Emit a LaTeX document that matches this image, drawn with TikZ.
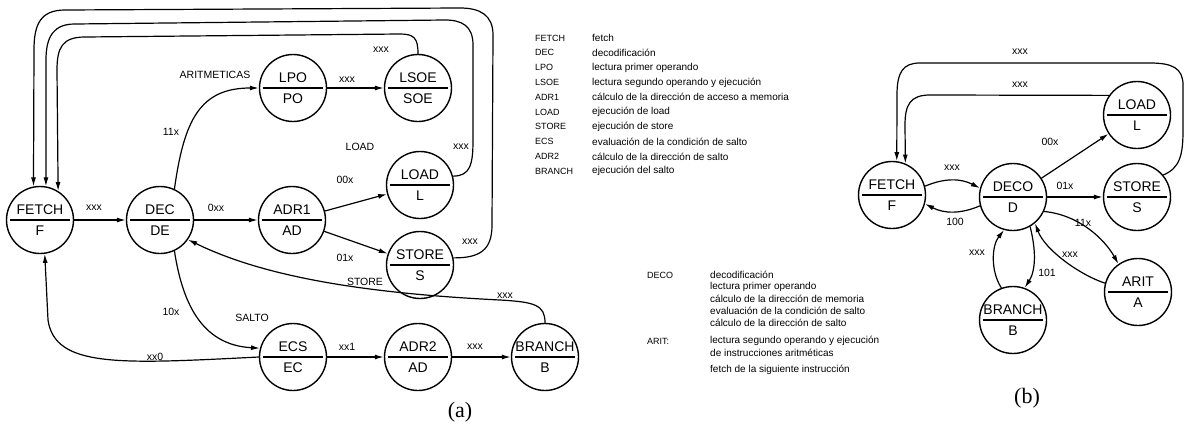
\documentclass[tikz,border=0pt]{standalone}
\usepackage{fontspec}
\setmainfont{Liberation Sans}
\newfontfamily\capfont{Liberation Serif}
\usetikzlibrary{arrows.meta}
\newcommand\mkstate[4]{%
  \node[st] (#1) at (#2) {};
  \draw[line width=1.4pt] ([xshift=4pt]#1.west) -- ([xshift=-4pt]#1.east);
  \node[stt,anchor=south,yshift=5pt] (#1t) at (#1.center) {#3};
  \node[stt,anchor=north,yshift=-6pt] (#1b) at (#1.center) {#4};
}
\begin{document}
\begin{tikzpicture}[x=1pt,y=-1pt,
  st/.style={circle,draw,line width=1.4pt,minimum size=67pt,inner sep=0pt},
  stt/.style={font=\fontsize{14}{14}\selectfont,inner sep=0pt},
  arr/.style={line width=1.2pt,-{Latex[length=9pt,width=5pt]}},
  lab/.style={font=\fontsize{10.5}{10.5}\selectfont,inner sep=0pt},
  leg/.style={font=\fontsize{9}{9}\selectfont,inner sep=0pt,anchor=west},
  legd/.style={font=\fontsize{10}{10}\selectfont,inner sep=0pt,anchor=west}]
\useasboundingbox (0,0) rectangle (1185,439);
% ---------------- (a) ----------------
\mkstate{FETCH}{40,220}{FETCH}{F}
\mkstate{DEC}{160,220}{DEC}{DE}
\mkstate{ADR1}{292,220}{ADR1}{AD}
\mkstate{LPO}{293,88}{LPO}{PO}
\mkstate{LSOE}{418,88}{LSOE}{SOE}
\mkstate{LOAD}{420,185}{LOAD}{L}
\mkstate{STORE}{420,265}{STORE}{S}
\mkstate{ECS}{293,357}{ECS}{EC}
\mkstate{ADR2}{418,357}{ADR2}{AD}
\mkstate{BRANCH}{545,357}{BRANCH}{B}

\draw[arr] (FETCH) -- (DEC);
\draw[arr] (DEC) -- (ADR1);
\draw[arr] (ADR1) -- (LOAD);
\draw[arr] (ADR1) -- (STORE);
\draw[arr] (LPO) -- (LSOE);
\draw[arr] (ECS) -- (ADR2);
\draw[arr] (ADR2) -- (BRANCH);
\draw[arr] (DEC.65) .. controls (184,120) and (200,88) .. (LPO.west);
\draw[arr] (DEC.-65) .. controls (182,300) and (200,345) .. (ECS.165);
\draw[arr] (ECS.west) .. controls (120,364) and (55,368) .. (48,320) -- (FETCH.-82);
\draw[arr] (BRANCH.north) .. controls (545,305) and (535,302) .. (500,300)
  .. controls (380,294) and (270,280) .. (DEC.-35);
\draw[arr] (LSOE.north) .. controls (418,38) and (414,34) .. (400,34) -- (85,37)
  .. controls (62,37) and (57,48) .. (57,70) -- (FETCH.58);
\draw[arr] (LOAD.15) .. controls (470,176) and (473,165) .. (473,140) -- (473,45)
  .. controls (473,26) and (462,20) .. (445,20) -- (75,24)
  .. controls (54,24) and (46,36) .. (46,60) -- (FETCH.80);
\draw[arr] (STORE.12) .. controls (480,258) and (492,250) .. (492,225) -- (493,35)
  .. controls (493,15) and (480,8) .. (460,8) -- (65,10)
  .. controls (40,10) and (34,25) .. (34,50) -- (FETCH.101);

\node[lab] (la1) at (94,208) {xxx};
\node[lab] (la2) at (216,208) {0xx};
\node[lab] (la3) at (345,180) {00x};
\node[lab] (la4) at (345,258) {01x};
\node[lab] (la5) at (365,282) {STORE};
\node[lab] (la6) at (360,147) {LOAD};
\node[lab] (la7) at (461,147) {xxx};
\node[lab] (la8) at (470,242) {xxx};
\node[lab] (la9) at (381,50) {xxx};
\node[lab] (la10) at (215,75) {ARITMETICAS};
\node[lab] (la11) at (347,80) {xxx};
\node[lab] (la12) at (171,132) {11x};
\node[lab] (la13) at (171,312) {10x};
\node[lab] (la14) at (252,318) {SALTO};
\node[lab] (la15) at (347,347) {xx1};
\node[lab] (la16) at (475,347) {xxx};
\node[lab] (la17) at (155,357) {xx0};
\node[lab] (la18) at (505,296) {xxx};
\node[font=\capfont\fontsize{22}{22}\selectfont] (capa) at (460,412) {(a)};

% legend top
\foreach \i/\a/\b in {0/FETCH/fetch,1/DEC/decodificación,2/LPO/lectura primer operando,
  3/LSOE/lectura segundo operando y ejecución,4/ADR1/cálculo de la dirección de acceso a memoria,
  5/LOAD/ejecución de load,6/STORE/ejecución de store,7/ECS/evaluación de la condición de salto,
  8/ADR2/cálculo de la dirección de salto,9/BRANCH/ejecución del salto}{
  \node[leg] (lk\i) at (535,38+14.8*\i) {\a};
  \node[legd] (ld\i) at (592,38+14.8*\i) {\b};
}
% legend bottom
\node[leg] (bk1) at (647,275) {DECO};
\node[legd] (bd1) at (710,275) {decodificación};
\node[legd] (bd2) at (710,287) {lectura primer operando};
\node[legd] (bd3) at (710,299) {cálculo de la dirección de memoria};
\node[legd] (bd4) at (710,311) {evaluación de la condición de salto};
\node[legd] (bd5) at (710,323) {cálculo de la dirección de salto};
\node[leg] (bk2) at (647,341) {ARIT:};
\node[legd] (bd6) at (710,341) {lectura segundo operando y ejecución};
\node[legd] (bd7) at (710,353) {de instrucciones aritméticas};
\node[legd] (bd8) at (710,370) {fetch de la siguiente instrucción};

% ---------------- (b) ----------------
\mkstate{bFETCH}{892,195}{FETCH}{F}
\mkstate{bDECO}{1013,197}{DECO}{D}
\mkstate{bLOAD}{1137,115}{LOAD}{L}
\mkstate{bSTORE}{1137,197}{STORE}{S}
\mkstate{bARIT}{1138,292}{ARIT}{A}
\mkstate{bBRANCH}{1013,320}{BRANCH}{B}

\draw[arr] (bFETCH.15) to[bend left=25] (bDECO.165);
\draw[arr] (bDECO.195) to[bend left=25] (bFETCH.-15);
\draw[arr] (bDECO) -- (bLOAD);
\draw[arr] (bDECO) -- (bSTORE);
\draw[arr] (bDECO.-25) .. controls (1080,215) and (1105,240) .. (bARIT.125);
\draw[arr] (bARIT.165) .. controls (1080,275) and (1045,250) .. (bDECO.-50);
\draw[arr] (bDECO.-60) .. controls (1036,250) and (1036,270) .. (bBRANCH.70);
\draw[arr] (bBRANCH.110) .. controls (990,270) and (992,245) .. (bDECO.-105);
\draw[arr] (bLOAD.145) -- (930,95) .. controls (910,95) and (905,105) .. (905,125) -- (bFETCH.67);
\draw[arr] (bSTORE.40) .. controls (1180,168) and (1183,155) .. (1183,130) -- (1183,85)
  .. controls (1183,68) and (1172,63) .. (1150,63) -- (920,63)
  .. controls (903,63) and (897,72) .. (897,95) -- (bFETCH.82);

\node[lab] (lb1) at (952,168) {xxx};
\node[lab] (lb2) at (955,222) {100};
\node[lab] (lb3) at (1050,142) {00x};
\node[lab] (lb4) at (1065,186) {01x};
\node[lab] (lb5) at (1083,223) {11x};
\node[lab] (lb6) at (1070,255) {xxx};
\node[lab] (lb7) at (1047,273) {101};
\node[lab] (lb8) at (977,253) {xxx};
\node[lab] (lb9) at (1020,85) {xxx};
\node[lab] (lb10) at (1020,52) {xxx};
\node[font=\capfont\fontsize{22}{22}\selectfont] (capb) at (1027,398) {(b)};
\end{tikzpicture}
\end{document}
